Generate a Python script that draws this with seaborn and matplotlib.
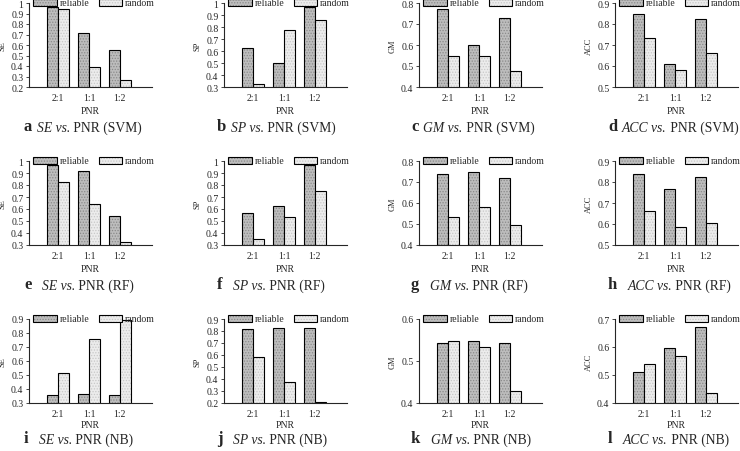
import numpy as np
import pandas as pd
import matplotlib
matplotlib.use("Agg")
import matplotlib.pyplot as plt
import seaborn as sns
from matplotlib.patches import Patch
from matplotlib.colors import to_rgba
from matplotlib.ticker import FuncFormatter

# ── DATA ──────────────────────────────────────────────────
pnr = ["2:1", "1:1", "1:2"]
methods = ["reliable", "random"]

svm_se_reliable = [0.965, 0.718, 0.548]
svm_se_random = [0.943, 0.388, 0.266]
svm_sp_reliable = [0.624, 0.502, 0.965]
svm_sp_random = [0.322, 0.776, 0.857]
svm_gm_reliable = [0.772, 0.599, 0.728]
svm_gm_random = [0.546, 0.546, 0.476]
svm_acc_reliable = [0.848, 0.609, 0.824]
svm_acc_random = [0.734, 0.582, 0.661]

rf_se_reliable = [0.970, 0.915, 0.541]
rf_se_random = [0.821, 0.645, 0.328]
rf_sp_reliable = [0.565, 0.625, 0.970]
rf_sp_random = [0.350, 0.533, 0.750]
rf_gm_reliable = [0.737, 0.750, 0.720]
rf_gm_random = [0.531, 0.583, 0.495]
rf_acc_reliable = [0.838, 0.767, 0.826]
rf_acc_random = [0.660, 0.586, 0.606]

nb_se_reliable = [0.355, 0.362, 0.355]
nb_se_random = [0.512, 0.757, 0.895]
nb_sp_reliable = [0.820, 0.825, 0.825]
nb_sp_random = [0.580, 0.372, 0.208]
nb_gm_reliable = [0.543, 0.547, 0.544]
nb_gm_random = [0.548, 0.533, 0.429]
nb_acc_reliable = [0.510, 0.595, 0.670]
nb_acc_random = [0.538, 0.567, 0.435]

panels = [
    ("a", "SE", "SVM", svm_se_reliable, svm_se_random, (0.2, 1.0)),
    ("b", "SP", "SVM", svm_sp_reliable, svm_sp_random, (0.3, 1.0)),
    ("c", "GM", "SVM", svm_gm_reliable, svm_gm_random, (0.4, 0.8)),
    ("d", "ACC", "SVM", svm_acc_reliable, svm_acc_random, (0.5, 0.9)),
    ("e", "SE", "RF", rf_se_reliable, rf_se_random, (0.3, 1.0)),
    ("f", "SP", "RF", rf_sp_reliable, rf_sp_random, (0.3, 1.0)),
    ("g", "GM", "RF", rf_gm_reliable, rf_gm_random, (0.4, 0.8)),
    ("h", "ACC", "RF", rf_acc_reliable, rf_acc_random, (0.5, 0.9)),
    ("i", "SE", "NB", nb_se_reliable, nb_se_random, (0.3, 0.9)),
    ("j", "SP", "NB", nb_sp_reliable, nb_sp_random, (0.2, 0.9)),
    ("k", "GM", "NB", nb_gm_reliable, nb_gm_random, (0.4, 0.6)),
    ("l", "ACC", "NB", nb_acc_reliable, nb_acc_random, (0.4, 0.7)),
]

# ── STYLE ─────────────────────────────────────────────────
sns.set_theme(style="ticks")
plt.rcParams["font.family"] = ["Liberation Serif", "DejaVu Serif"]
plt.rcParams["hatch.linewidth"] = 0.6
plt.rcParams["axes.linewidth"] = 0.8

fill_colors = {"reliable": "#bdbdbd", "random": "#ececec"}
hatch_colors = {"reliable": "#8a8a8a", "random": "#c8c8c8"}

fig = plt.figure(figsize=(7.4, 4.52), dpi=100)

W, H = 740, 452
col_left = [29, 224, 419, 615]
row_bottom = [88, 246, 404]
ax_w, ax_h = 123, 84
cap_y = [127, 285, 439]
cap_x = [24, 217, 411, 608]
cap_gap = [3.5, 7.5, 7.5]   # points between letter and caption text

for idx, (letter, metric, clf, rel, rnd, ylim) in enumerate(panels):
    r, c = divmod(idx, 4)
    ax = fig.add_axes([col_left[c] / W, 1 - row_bottom[r] / H, ax_w / W, ax_h / H])

    df = pd.DataFrame({
        "pnr": pnr * 2,
        "method": [methods[0]] * 3 + [methods[1]] * 3,
        "value": rel + rnd,
    })
    sns.barplot(data=df, x="pnr", y="value", hue="method", hue_order=methods,
                palette=fill_colors, width=0.72, legend=False, ax=ax,
                edgecolor="black", linewidth=0.8, saturation=1)

    for i, p in enumerate(ax.patches):
        m = methods[i // 3]
        p.set_hatch("......")
        p._hatch_color = to_rgba(hatch_colors[m])

    ax.set_ylim(*ylim)
    ax.set_xlim(-0.95, 3.05)
    ax.set_yticks(np.round(np.arange(ylim[0], ylim[1] + 1e-6, 0.1), 2))
    ax.yaxis.set_major_formatter(FuncFormatter(lambda v, _: f"{v:g}"))
    ax.tick_params(axis="y", labelsize=7, length=2, width=0.6, pad=2)
    ax.tick_params(axis="x", labelsize=7, length=0, pad=4)
    sns.despine(ax=ax)
    ax.set_xlabel("PNR", fontsize=7, labelpad=2 if r == 2 else 3)
    ax.set_ylabel(metric, fontsize=6, labelpad=3)

    handles = [Patch(facecolor=fill_colors[m], edgecolor="black", hatch="......",
                     linewidth=0.8) for m in methods]
    for h, m in zip(handles, methods):
        h._hatch_color = to_rgba(hatch_colors[m])
    ax.legend(handles, methods, loc="center", bbox_to_anchor=(0.53, 1.0), ncol=2,
              frameon=False, fontsize=7, handlelength=2.4, handleheight=0.7,
              columnspacing=1.0, handletextpad=0.3, borderpad=0)

    # caption: bold letter, italic metric + "vs.", roman rest
    t = fig.text(cap_x[c] / W, 1 - cap_y[r] / H, letter, fontsize=12,
                 fontweight="bold", va="center", ha="left")
    t2 = ax.annotate(f"{metric} vs.", xy=(1, 0), xycoords=t,
                     xytext=(cap_gap[r], 0), textcoords="offset points",
                     va="bottom", ha="left", fontsize=9.8, fontstyle="italic",
                     annotation_clip=False)
    ax.annotate(f" PNR ({clf})", xy=(1, 0), xycoords=t2, va="bottom",
                ha="left", fontsize=9.8, annotation_clip=False)

plt.savefig("out.png", dpi=100)
